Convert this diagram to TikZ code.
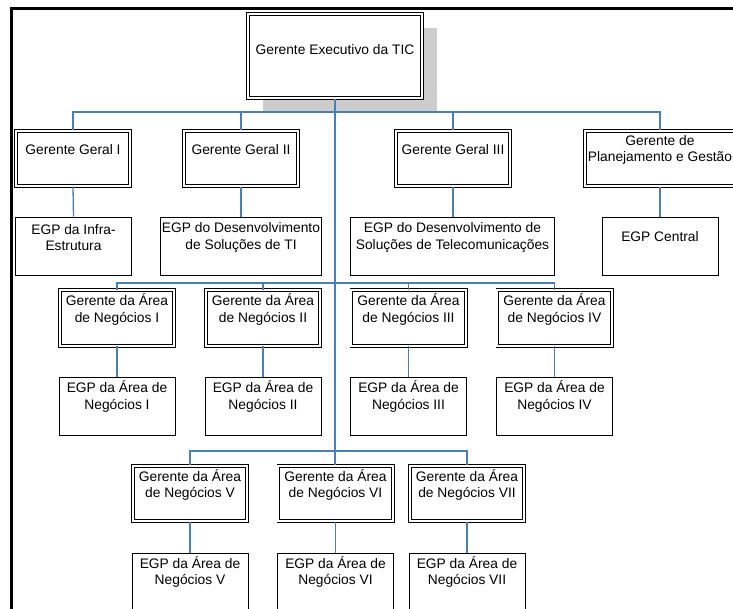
\documentclass[tikz,border=0pt]{standalone}
\usepackage{fontspec}
\setmainfont{Liberation Sans}
\usetikzlibrary{shadows}

\definecolor{linkblue}{HTML}{4A7EBB}
\definecolor{shadowgray}{HTML}{CCCCCC}

\newcommand\boxfont{\fontsize{13.8}{16.6}\selectfont}
% caption of a box, set a little above the box centre
\newcommand\orgtext[3][9]{\node[lbl] (#2-t) at ([yshift=#1pt]#2.center) {#3};}

\tikzset{
  mgr/.style={draw, double, double distance=1.8pt, line width=0.9pt, fill=white,
    inner sep=0pt, minimum width=114.4pt, minimum height=55.4pt},
  egp/.style={draw, line width=0.9pt, fill=white, inner sep=0pt,
    minimum width=116pt, minimum height=58pt},
  lbl/.style={align=center, inner sep=0pt, font=\boxfont},
  link/.style={draw=linkblue, line width=1.3pt},
  frame/.style={draw=black, line width=2.7pt},
}

\begin{document}
\begin{tikzpicture}[x=1pt, y=-1pt]
\clip (0,0) rectangle (733,609);

% page frame
\draw[frame] (11.3,612) -- (11.3,8.8) -- (736,8.8);

% executive
\node[mgr, minimum width=174.4pt, minimum height=84.4pt,
  drop shadow={shadow xshift=15pt, shadow yshift=-14pt, fill=shadowgray, opacity=1}]
  (exec) at (335,56) {};
\orgtext[6]{exec}{Gerente Executivo da TIC}

% general managers
\node[mgr] (gg1) at (73,158.5) {};
\node[mgr] (gg2) at (241,158.5) {};
\node[mgr] (gg3) at (453,158.5) {};
\node[mgr, minimum width=150.4pt] (gpg) at (660,158.5) {};
\orgtext[8.5]{gg1}{Gerente Geral I}
\orgtext[8.5]{gg2}{Gerente Geral II}
\orgtext[8.5]{gg3}{Gerente Geral III}
\orgtext[8.5]{gpg}{Gerente de\\Planejamento e Gestão}

% their project offices
\node[egp] (e1) at (73.5,246) {};
\node[egp, minimum width=161pt] (e2) at (241,246) {};
\node[egp, minimum width=204pt] (e3) at (452.5,246) {};
\node[egp] (ec) at (660,246) {};
\orgtext[8.5]{e1}{EGP da Infra-\\Estrutura}
\orgtext[8.5]{e2}{EGP do Desenvolvimento\\de Soluções de TI}
\orgtext[8.5]{e3}{EGP do Desenvolvimento de\\Soluções de Telecomunicações}
\orgtext[9]{ec}{EGP Central}

% business area managers, first row
\node[mgr] (a1) at (117,318) {};
\node[mgr] (a2) at (263,318) {};
\node[mgr] (a3) at (408.5,318) {};
\node[mgr] (a4) at (554.5,318) {};
\orgtext[8.5]{a1}{Gerente da Área\\de Negócios I}
\orgtext[8.5]{a2}{Gerente da Área\\de Negócios II}
\orgtext[8.5]{a3}{Gerente da Área\\de Negócios III}
\orgtext[8.5]{a4}{Gerente da Área\\de Negócios IV}

\node[egp] (p1) at (117,406.5) {};
\node[egp] (p2) at (263,406.5) {};
\node[egp] (p3) at (408.5,406.5) {};
\node[egp] (p4) at (554.5,406.5) {};
\orgtext[10]{p1}{EGP da Área de\\Negócios I}
\orgtext[10]{p2}{EGP da Área de\\Negócios II}
\orgtext[10]{p3}{EGP da Área de\\Negócios III}
\orgtext[10]{p4}{EGP da Área de\\Negócios IV}

% business area managers, second row
\node[mgr] (a5) at (190,493.5) {};
\node[mgr] (a6) at (335.5,493.5) {};
\node[mgr] (a7) at (467,493.5) {};
\orgtext[8.5]{a5}{Gerente da Área\\de Negócios V}
\orgtext[8.5]{a6}{Gerente da Área\\de Negócios VI}
\orgtext[8.5]{a7}{Gerente da Área\\de Negócios VII}

\node[egp] (p5) at (190,582.5) {};
\node[egp] (p6) at (335.5,582.5) {};
\node[egp] (p7) at (467,582.5) {};
\orgtext[10.5]{p5}{EGP da Área de\\Negócios V}
\orgtext[10.5]{p6}{EGP da Área de\\Negócios VI}
\orgtext[10.5]{p7}{EGP da Área de\\Negócios VII}

% bus lines
\coordinate (b1) at (0,112);
\coordinate (b2) at (0,283);
\coordinate (b3) at (0,451);

% trunk from the executive down to the last row
\draw[link] (exec.south) -- (exec.south |- a6.north);

\draw[link] (gg1.north) -- (gg1.north |- b1) -- (gpg.north |- b1) -- (gpg.north);
\draw[link] (gg2.north) -- (gg2.north |- b1);
\draw[link] (gg3.north) -- (gg3.north |- b1);

\draw[link] (gg1.south) -- (e1.north);
\draw[link] (gg2.south) -- (e2.north);
\draw[link] (gg3.south) -- (gg3.south |- e3.north);
\draw[link] (gpg.south) -- (ec.north);

\draw[link] (a1.north) -- (a1.north |- b2) -- (a4.north |- b2) -- (a4.north);
\draw[link] (a2.north) -- (a2.north |- b2);
\draw[link] (a3.north) -- (a3.north |- b2);
\draw[link] (a1.south) -- (p1.north);
\draw[link] (a2.south) -- (p2.north);
\draw[link] (a3.south) -- (p3.north);
\draw[link] (a4.south) -- (p4.north);

\draw[link] (a5.north) -- (a5.north |- b3) -- (a7.north |- b3) -- (a7.north);
\draw[link] (a5.south) -- (p5.north);
\draw[link] (a6.south) -- (p6.north);
\draw[link] (a7.south) -- (p7.north);
\end{tikzpicture}
\end{document}
